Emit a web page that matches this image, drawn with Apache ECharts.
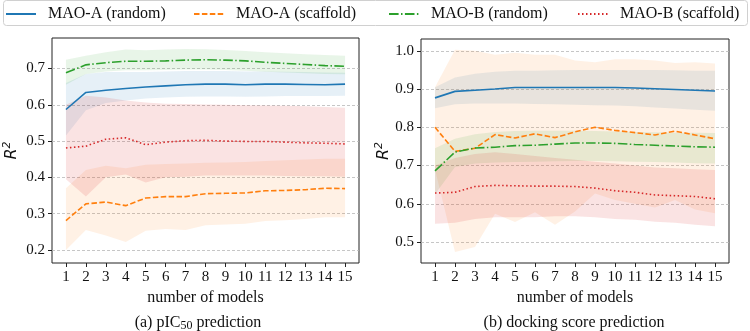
<!DOCTYPE html>
<html>
<head>
<meta charset="utf-8">
<script src="https://cdn.jsdelivr.net/npm/echarts@6/dist/echarts.min.js"></script>
<style>
  html, body { margin: 0; padding: 0; background: #fff; }
  #chart { width: 750px; height: 331px; }
</style>
</head>
<body>
<div id="chart"></div>
<script>
// number of models on the x axis
const models = [1, 2, 3, 4, 5, 6, 7, 8, 9, 10, 11, 12, 13, 14, 15];
const seriesNames = ['MAO-A (random)', 'MAO-A (scaffold)', 'MAO-B (random)', 'MAO-B (scaffold)'];
const colors = ['#1f77b4', '#ff7f0e', '#2ca02c', '#d62728'];

// (a) pIC50 prediction, order as seriesNames
const pic50Mean = [
  [0.587, 0.634, 0.640, 0.645, 0.649, 0.652, 0.655, 0.657, 0.657, 0.655, 0.657, 0.657, 0.656, 0.655, 0.657],
  [0.281, 0.327, 0.332, 0.322, 0.343, 0.347, 0.347, 0.355, 0.356, 0.357, 0.363, 0.364, 0.366, 0.370, 0.369],
  [0.688, 0.710, 0.716, 0.720, 0.720, 0.721, 0.723, 0.724, 0.723, 0.721, 0.717, 0.714, 0.711, 0.708, 0.706],
  [0.481, 0.486, 0.505, 0.509, 0.490, 0.497, 0.501, 0.502, 0.500, 0.499, 0.499, 0.497, 0.495, 0.494, 0.492]
];
const pic50Low = [
  [0.515, 0.585, 0.605, 0.612, 0.617, 0.620, 0.622, 0.623, 0.623, 0.622, 0.623, 0.624, 0.624, 0.624, 0.625],
  [0.200, 0.255, 0.240, 0.222, 0.253, 0.258, 0.255, 0.268, 0.270, 0.272, 0.280, 0.282, 0.285, 0.290, 0.290],
  [0.655, 0.685, 0.692, 0.695, 0.695, 0.696, 0.697, 0.697, 0.696, 0.694, 0.691, 0.689, 0.687, 0.685, 0.684],
  [0.395, 0.347, 0.400, 0.408, 0.386, 0.400, 0.402, 0.405, 0.405, 0.405, 0.405, 0.404, 0.403, 0.403, 0.402]
];
const pic50High = [
  [0.660, 0.685, 0.690, 0.690, 0.690, 0.692, 0.693, 0.693, 0.693, 0.692, 0.692, 0.691, 0.690, 0.689, 0.688],
  [0.370, 0.420, 0.432, 0.425, 0.435, 0.437, 0.438, 0.440, 0.441, 0.442, 0.445, 0.447, 0.449, 0.451, 0.451],
  [0.724, 0.735, 0.745, 0.752, 0.750, 0.752, 0.754, 0.753, 0.751, 0.748, 0.745, 0.742, 0.739, 0.737, 0.735],
  [0.600, 0.625, 0.620, 0.612, 0.606, 0.603, 0.602, 0.601, 0.600, 0.599, 0.598, 0.597, 0.596, 0.594, 0.592]
];

// (b) docking score prediction
const dockMean = [
  [0.877, 0.894, 0.897, 0.900, 0.904, 0.904, 0.904, 0.904, 0.904, 0.904, 0.903, 0.901, 0.899, 0.897, 0.895],
  [0.800, 0.737, 0.745, 0.781, 0.772, 0.783, 0.773, 0.788, 0.800, 0.792, 0.786, 0.780, 0.790, 0.780, 0.770],
  [0.686, 0.735, 0.746, 0.748, 0.752, 0.753, 0.756, 0.759, 0.759, 0.758, 0.755, 0.753, 0.751, 0.749, 0.748],
  [0.628, 0.630, 0.645, 0.648, 0.647, 0.646, 0.646, 0.645, 0.641, 0.634, 0.630, 0.623, 0.621, 0.619, 0.613]
];
const dockLow = [
  [0.850, 0.860, 0.862, 0.862, 0.862, 0.861, 0.860, 0.859, 0.858, 0.857, 0.855, 0.852, 0.849, 0.846, 0.843],
  [0.690, 0.474, 0.487, 0.574, 0.552, 0.578, 0.545, 0.580, 0.627, 0.610, 0.600, 0.590, 0.610, 0.585, 0.575],
  [0.625, 0.696, 0.705, 0.708, 0.709, 0.710, 0.711, 0.712, 0.712, 0.711, 0.710, 0.709, 0.708, 0.706, 0.705],
  [0.548, 0.550, 0.560, 0.565, 0.565, 0.565, 0.567, 0.567, 0.565, 0.560, 0.558, 0.553, 0.550, 0.545, 0.541]
];
const dockHigh = [
  [0.905, 0.930, 0.940, 0.945, 0.948, 0.948, 0.949, 0.950, 0.950, 0.950, 0.950, 0.950, 0.949, 0.948, 0.948],
  [0.905, 1.003, 1.000, 0.990, 0.995, 0.990, 0.990, 0.975, 0.970, 0.978, 0.978, 0.975, 0.968, 0.970, 0.967],
  [0.745, 0.770, 0.782, 0.788, 0.790, 0.791, 0.791, 0.791, 0.790, 0.789, 0.788, 0.787, 0.786, 0.786, 0.785],
  [0.700, 0.720, 0.730, 0.735, 0.730, 0.725, 0.720, 0.715, 0.710, 0.705, 0.700, 0.695, 0.693, 0.690, 0.688]
];

const pic50Ticks = [0.2, 0.3, 0.4, 0.5, 0.6, 0.7];
const dockTicks = [0.5, 0.6, 0.7, 0.8, 0.9, 1.0];

const lineTypes = ['solid', [5.5, 2.4], [9.6, 2.4, 1.5, 2.4], [1.5, 2.5]];
const bandAlpha = [0.11, 0.11, 0.11, 0.13];
const serif = '"Liberation Serif", "Times New Roman", serif';

function rgba(hex, a) {
  let n = parseInt(hex.slice(1), 16);
  return 'rgba(' + (n >> 16) + ',' + ((n >> 8) & 255) + ',' + (n & 255) + ',' + a + ')';
}

// shaded min/max band, drawn once as one polygon through the axis scales
function bandSeries(idx, low, high, fill) {
  return {
    type: 'custom', xAxisIndex: idx, yAxisIndex: idx, silent: true, z: 1,
    data: models.map((m, i) => [m, low[i], high[i]]),
    encode: { x: 0, y: [1, 2] },
    renderItem: function (params, api) {
      if (params.dataIndex !== 0) return null;
      let pts = [];
      for (let i = 0; i < models.length; i++) pts.push(api.coord([models[i], high[i]]));
      for (let i = models.length - 1; i >= 0; i--) pts.push(api.coord([models[i], low[i]]));
      return { type: 'polygon', shape: { points: pts }, style: { fill: fill } };
    }
  };
}

function panelSeries(idx, mean, low, high) {
  let out = [];
  for (let s = 0; s < 4; s++) {
    out.push(bandSeries(idx, low[s], high[s], rgba(colors[s], bandAlpha[s])));
  }
  for (let s = 0; s < 4; s++) {
    out.push({
      name: seriesNames[s], type: 'line', xAxisIndex: idx, yAxisIndex: idx,
      data: models.map((m, i) => [m, mean[s][i]]),
      symbol: 'none', z: 5,
      itemStyle: { color: colors[s] },
      lineStyle: { color: colors[s], width: 1.6, type: lineTypes[s] }
    });
  }
  return out;
}

function makeX(idx) {
  return {
    type: 'value', gridIndex: idx, min: 0.3, max: 15.7,
    name: 'number of models', nameLocation: 'middle', nameGap: 25,
    nameTextStyle: { fontFamily: serif, fontSize: 16, color: '#111' },
    axisLine: { show: false },
    axisTick: { show: true, customValues: models, length: 4, lineStyle: { color: '#222', width: 1 } },
    axisLabel: { customValues: models, fontFamily: serif, fontSize: 15, color: '#111', margin: 7 },
    splitLine: { show: false }
  };
}

function makeY(idx, min, max, ticks, gap) {
  return {
    type: 'value', gridIndex: idx, min: min, max: max,
    name: 'R{sup|2}', nameLocation: 'middle', nameGap: gap, nameRotate: 90,
    nameTextStyle: {
      fontFamily: '"DejaVu Sans", sans-serif', fontStyle: 'italic', fontSize: 16, color: '#111',
      rich: { sup: { fontFamily: '"DejaVu Sans", sans-serif', fontSize: 11, verticalAlign: 'top', padding: [0, 0, 8, 0], color: '#111' } }
    },
    axisLine: { show: false },
    axisTick: { show: true, customValues: ticks, length: 4, lineStyle: { color: '#222', width: 1 } },
    axisLabel: { customValues: ticks, formatter: v => v.toFixed(1), fontFamily: serif, fontSize: 15, color: '#111', margin: 7 },
    splitLine: { show: true, lineStyle: { color: '#b8b8b8', type: [3, 2], width: 0.8 } }
  };
}

function makeLegend(s, left) {
  return {
    data: [seriesNames[s]], left: left, top: 6, padding: 0, itemWidth: 30, itemHeight: 14,
    selectedMode: false, itemStyle: { opacity: 0 },
    textStyle: { fontFamily: serif, fontSize: 16, color: '#111', padding: [0, 0, 0, 7] }
  };
}

const chart = echarts.init(document.getElementById('chart'), null, { renderer: 'canvas' });
chart.setOption({
  animation: false,
  backgroundColor: '#fff',
  grid: [
    { left: 52, top: 38, width: 307, height: 225, show: true, borderColor: '#222', borderWidth: 1, backgroundColor: 'transparent' },
    { left: 421, top: 39, width: 308, height: 224, show: true, borderColor: '#222', borderWidth: 1, backgroundColor: 'transparent' }
  ],
  xAxis: [makeX(0), makeX(1)],
  yAxis: [makeY(0, 0.164, 0.784, pic50Ticks, 31), makeY(1, 0.445, 1.031, dockTicks, 26)],
  legend: [makeLegend(0, 5), makeLegend(1, 193), makeLegend(2, 388), makeLegend(3, 577)],
  graphic: [
    { type: 'rect', z: -1, shape: { x: 3.5, y: 0.5, width: 744, height: 25, r: 3 }, style: { fill: '#fff', stroke: '#d0d0d0', lineWidth: 1 } },
    { type: 'text', x: 198, y: 323, style: {
        text: '(a) pIC{sub|50} prediction', align: 'center', verticalAlign: 'middle',
        font: '16px ' + serif, fill: '#111',
        rich: { sub: { fontSize: 12, fontFamily: serif, padding: [6, 0, 0, 0], fill: '#111' } } } },
    { type: 'text', x: 574, y: 323, style: {
        text: '(b) docking score prediction', align: 'center', verticalAlign: 'middle',
        font: '16px ' + serif, fill: '#111' } }
  ],
  series: panelSeries(0, pic50Mean, pic50Low, pic50High).concat(panelSeries(1, dockMean, dockLow, dockHigh))
});
</script>
</body>
</html>
